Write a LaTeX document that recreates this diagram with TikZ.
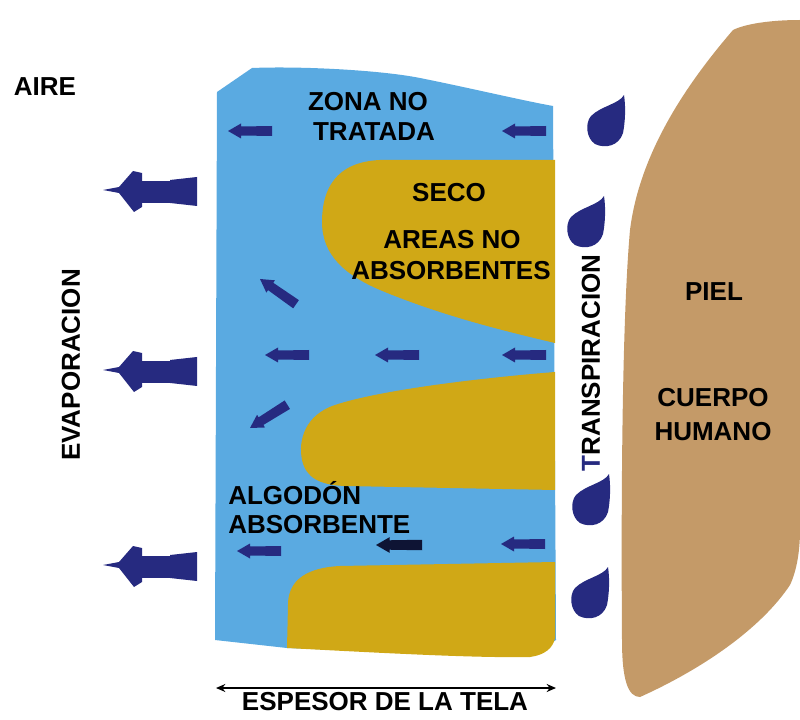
\documentclass[tikz,border=0pt]{standalone}
\usepackage{fontspec}
\setmainfont{Liberation Sans}
\usetikzlibrary{arrows.meta}

\definecolor{tela}{RGB}{90,170,225}
\definecolor{seco}{RGB}{208,168,22}
\definecolor{piel}{RGB}{196,154,104}
\definecolor{gota}{RGB}{38,42,128}
\definecolor{oscuro}{RGB}{14,20,52}

\begin{document}
\begin{tikzpicture}[
    x=0.75pt, y=-0.75pt,
    label/.style={inner sep=0pt, font=\fontsize{19.5}{22}\selectfont\bfseries},
    smallarrow/.pic={
        \fill (0,0) -- (13,-7.5) -- (13,-4.5) -- (44,-5) -- (44,5) -- (13,4.5) -- (13,7.5) -- cycle;
    },
    bigarrow/.pic={
        \fill (0,0) -- (16,-3) -- (30,-19) -- (39,-17) -- (39,17) -- (31,22) -- (16,3) -- cycle;
        \fill (39,-9) rectangle (67,13);
        \fill (67,-10) -- (94,-13) -- (94,16) -- (67,13) -- cycle;
    },
    drop/.pic={
        \fill (19,-33) .. controls (14,-24) and (-4,-22) .. (-14,-12)
            .. controls (-20,-5) and (-19,10) .. (-10,16)
            .. controls (0,21) and (14,18) .. (18,5)
            .. controls (20,-5) and (21,-20) .. (19,-33) -- cycle;
    }
]
\useasboundingbox (0,0) rectangle (800,720);

% piel
\fill[piel] (800,20) .. controls (770,20) and (745,24) .. (733,30)
    .. controls (690,80) and (640,150) .. (630,230)
    .. controls (622,320) and (621,500) .. (622,640)
    .. controls (622,680) and (628,697) .. (640,697)
    .. controls (700,670) and (760,630) .. (790,585)
    .. controls (797,570) and (800,550) .. (800,530) -- cycle;

% tela
\fill[tela] (217,92) -- (252,68) .. controls (300,66) and (380,70) .. (420,78)
    .. controls (470,88) and (520,100) .. (553,106) -- (556,640)
    -- (530,657) -- (287,648) -- (215,640) -- cycle;

% zonas secas
\fill[seco] (555,160) -- (380,160) .. controls (335,162) and (322,190) .. (322,222)
    .. controls (322,255) and (345,275) .. (380,290)
    .. controls (440,315) and (500,330) .. (555,343) -- cycle;
\fill[seco] (555,372) .. controls (480,378) and (380,390) .. (335,405)
    .. controls (305,415) and (298,440) .. (302,460)
    .. controls (306,478) and (320,485) .. (345,486) -- (555,490) -- cycle;
\fill[seco] (555,562) -- (340,566) .. controls (300,568) and (288,585) .. (288,605)
    -- (287,648) .. controls (400,654) and (480,658) .. (530,657)
    .. controls (545,655) and (553,648) .. (555,638) -- cycle;

% flechas
\begin{scope}[gota]
    \pic at (103,190) {bigarrow};
    \pic at (103,370) {bigarrow};
    \pic at (103,565) {bigarrow};

    \pic at (228,131) {smallarrow};
    \pic at (502,131) {smallarrow};
    \pic[rotate=-35] at (260,279) {smallarrow};
    \pic at (265,355) {smallarrow};
    \pic at (375,355) {smallarrow};
    \pic at (502,355) {smallarrow};
    \pic[rotate=32] at (250,428) {smallarrow};
    \pic at (237,551) {smallarrow};
    \pic at (501,544) {smallarrow};
\end{scope}
\pic[oscuro, scale=1.05] at (376,545) {smallarrow};

% gotas
\begin{scope}[gota]
    \pic at (605,128) {drop};
    \pic at (585,229) {drop};
    \pic at (590,507) {drop};
    \pic at (589,600) {drop};
\end{scope}

% textos
\node[label] (aire) at (45,87) {AIRE};
\node[label] (zona) at (368,102) {ZONA NO};
\node[label] (tratada) at (374,132) {TRATADA};
\node[label] (seco) at (449,193) {SECO};
\node[label] (areas) at (452,240) {AREAS NO};
\node[label] (absorbentes) at (451,271) {ABSORBENTES};
\node[label, anchor=west] (algodon) at (228,493) {ALGODÓN};
\node[label, anchor=west] (absorbente) at (228,525) {ABSORBENTE};
\node[label, rotate=90] (evaporacion) at (71,365) {EVAPORACION};
\node[label, rotate=90] (transpiracion) at (591,363) {\textcolor{gota}{T}RANSPIRACION};
\node[label] (pielt) at (714,292) {PIEL};
\node[label] (cuerpo) at (713,398) {CUERPO};
\node[label] (humano) at (713,432) {HUMANO};
\node[label] (espesor) at (385,702) {ESPESOR DE LA TELA};

% espesor
\coordinate (espL) at (216,688);
\coordinate (espR) at (556,688);
\draw[line width=1.4pt, {Stealth[length=7pt,width=6pt]}-{Stealth[length=7pt,width=6pt]}] (espL) -- (espR);
\end{tikzpicture}
\end{document}
